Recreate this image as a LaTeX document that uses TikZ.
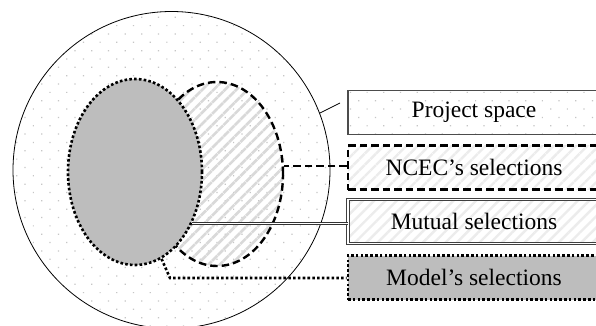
\documentclass[tikz,border=0pt]{standalone}
\usepackage{fontspec}
\setmainfont{Liberation Serif}
\usetikzlibrary{patterns.meta,shapes.geometric}
\tikzset{
  dotfill/.style={pattern={Dots[angle=45,distance=11.8pt,radius=0.85pt]},pattern color=gray!45},
  hatchfill/.style={pattern={Lines[angle=45,distance=8pt,line width=2.6pt]},pattern color=gray!30},
  hatchlight/.style={pattern={Lines[angle=45,distance=8pt,line width=2.4pt]},pattern color=gray!15},
  mydash/.style={line width=2.4pt,dash pattern=on 7.5pt off 4pt},
  mydot/.style={line width=2.6pt,dash pattern=on 2.6pt off 2.2pt},
  legend/.style={minimum width=252pt,minimum height=44pt,inner sep=0pt,font=\fontsize{23.5}{26}\selectfont},
}
\begin{document}
\begin{tikzpicture}[x=1pt,y=-1pt]
\useasboundingbox (0,0) rectangle (596,326);
\fill[white] (0,0) rectangle (596,326);
\clip (0,0) rectangle (596,326);
% project space
\node[circle,draw,line width=0.8pt,minimum size=317pt,inner sep=0pt,dotfill] (space) at (171.5,170) {};
% NCEC
\node[ellipse,minimum width=132pt,minimum height=184pt,inner sep=0pt,hatchfill,draw,mydash] (ncec) at (217,174) {};
% Model
\node[ellipse,minimum width=134pt,minimum height=186pt,inner sep=0pt,fill=gray!52,draw,mydot] (model) at (135,172) {};
% legend boxes
\node[legend,draw=gray!60!black,line width=1.3pt,dotfill] (spacebox) at (474,112.5) {Project space};
\node[legend,draw,mydash,hatchlight] (ncecbox) at (474,167.5) {NCEC's selections};
\node[legend,draw=gray!50!black,line width=0.9pt,double,double distance=1.6pt,hatchlight] (mutualbox) at (474,221.5) {Mutual selections};
\node[legend,draw,mydot,fill=gray!52] (modelbox) at (474,277.5) {Model's selections};
% connectors
\coordinate (spaceend) at (340,103);
\draw[line width=0.8pt] (space.21.5) -- (spaceend);
\draw[mydash] (ncecbox.west |- 0,166) -- (ncec.east |- 0,166);
\draw[draw=gray!40!black,line width=0.8pt,double,double distance=1.4pt] (model.-42) -- (model.-42 -| mutualbox.west);
\coordinate (modelbend) at (170,278);
\draw[mydot] (model.-73) -- (modelbend) -- (modelbend -| modelbox.west);
\end{tikzpicture}
\end{document}
